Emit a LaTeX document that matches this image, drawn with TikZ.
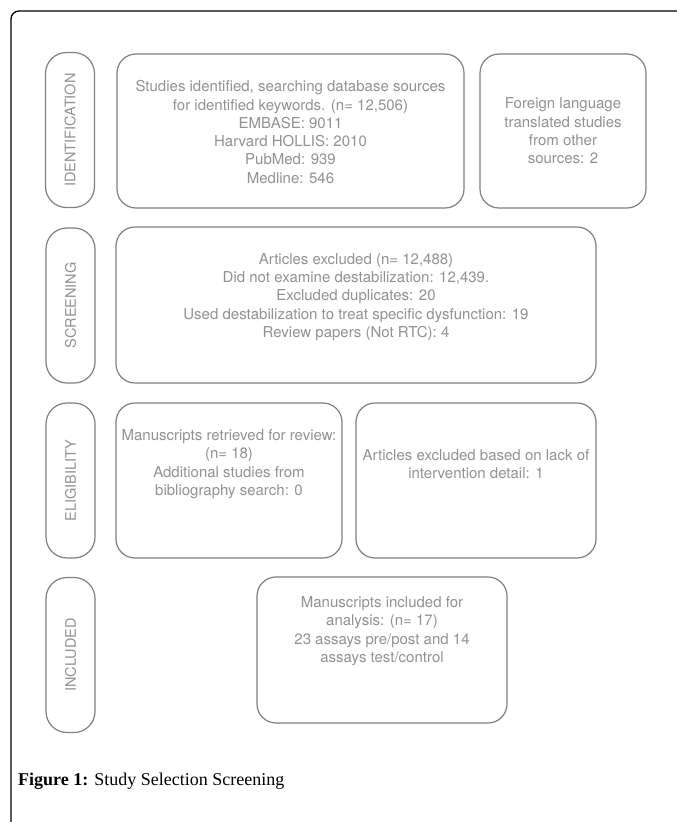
\documentclass[tikz,border=0pt]{standalone}
\usepackage{fontspec}
\setmainfont{Liberation Serif}
\setsansfont{TeX Gyre Heros}
\definecolor{boxline}{HTML}{808080}
\definecolor{boxtext}{HTML}{929292}
\begin{document}
\begin{tikzpicture}[x=1pt,y=-1pt,
  box/.style={draw=boxline, line width=1.2pt, rounded corners=19pt, inner sep=0pt},
  pill/.style={draw=boxline, line width=1.2pt, rounded corners=21pt, inner sep=0pt, minimum width=49pt, minimum height=155pt},
  btext/.style={text=boxtext, align=center, font=\sffamily\fontsize{15}{18.3}\selectfont, inner sep=0pt},
  ptext/.style={text=boxtext, font=\sffamily\fontsize{14.5}{16}\selectfont, rotate=90, inner sep=0pt},
]
\useasboundingbox (0,0) rectangle (677,822);
\fill[white] (0,0) rectangle (677,822);
% outer frame
\draw[line width=1.3pt, black] (11,822) -- (11,19) arc[start angle=180, end angle=270, radius=8] -- (677,11);

% phase pills
\node[pill] (p1) at (70,130) {};
\node[ptext] (p1t) at (p1.center) {IDENTIFICATION};
\node[pill] (p2) at (70.5,305.5) {};
\node[ptext] (p2t) at (p2.center) {SCREENING};
\node[pill] (p3) at (70.5,480.5) {};
\node[ptext] (p3t) at (p3.center) {ELIGIBILITY};
\node[pill] (p4) at (70.5,655) {};
\node[ptext] (p4t) at (p4.center) {INCLUDED};

% boxes
\node[box, minimum width=347pt, minimum height=154pt] (b1) at (290.5,131) {};
\node[btext] (b1t) at (290.5,132) {Studies identified, searching database sources\\for identified keywords. (n= 12,506)\\EMBASE: 9011\\Harvard HOLLIS: 2010\\PubMed: 939\\Medline: 546};

\node[box, minimum width=166pt, minimum height=154pt] (b2) at (563,131) {};
\node[btext] (b2t) at (563,131) {Foreign language\\translated studies\\from other\\sources: 2};

\node[box, minimum width=480pt, minimum height=156pt] (b3) at (356,305) {};
\node[btext] (b3t) at (356,297) {Articles excluded (n= 12,488)\\Did not examine destabilization: 12,439.\\Excluded duplicates: 20\\Used destabilization to treat specific dysfunction: 19\\Review papers (Not RTC): 4};

\node[box, minimum width=226pt, minimum height=155pt] (b4) at (229,480.5) {};
\node[btext] (b4t) at (229,464) {Manuscripts retrieved for review:\\(n= 18)\\Additional studies from\\bibliography search: 0};

\node[box, minimum width=240pt, minimum height=155pt] (b5) at (476,480.5) {};
\node[btext] (b5t) at (476,464) {Articles excluded based on lack of\\intervention detail: 1};

\node[box, minimum width=250pt, minimum height=146pt] (b6) at (382,650) {};
\node[btext] (b6t) at (382,631) {Manuscripts included for\\analysis: (n= 17)\\23 assays pre/post and 14\\assays test/control};

% caption
\node[anchor=base west, inner sep=0pt, font=\fontsize{18}{20}\selectfont] (cap) at (18,785) {\textbf{Figure 1:} Study Selection Screening};
\end{tikzpicture}
\end{document}
